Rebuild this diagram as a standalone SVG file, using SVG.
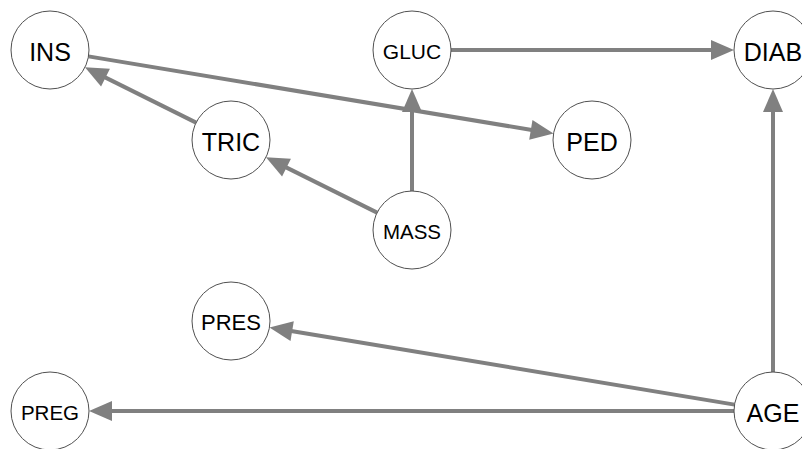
<svg xmlns="http://www.w3.org/2000/svg" width="802" height="449" viewBox="0 0 802 449">
  <style>
    .edge { stroke: #808080; stroke-width: 4; fill: none; marker-end: url(#arrow); }
    .node circle { fill: #ffffff; stroke: #505050; stroke-width: 1; }
    .node text { font-family: "Liberation Sans", Arial, sans-serif; fill: #000000; text-anchor: middle; }
  </style>
  <defs>
    <marker id="arrow" markerUnits="userSpaceOnUse" markerWidth="24" markerHeight="22" viewBox="-1 -11 24 22" refX="0" refY="0" orient="auto" overflow="visible">
      <path d="M-1,-10 L22,0 L-1,10 Z" fill="#808080"/>
    </marker>
  </defs>
  <rect width="802" height="449" fill="#ffffff"/>
  <g id="connectors">
    <path class="edge" d="M196.08,122.64 L104.62,77.15"/>
    <path class="edge" d="M88.47,56.39 L531.83,130.01"/>
    <path class="edge" d="M377.08,212.64 L285.62,167.15"/>
    <path class="edge" d="M412,191 L412,111"/>
    <path class="edge" d="M451,50 L712,50"/>
    <path class="edge" d="M773,372 L773,111"/>
    <path class="edge" d="M734.53,404.61 L291.17,330.99"/>
    <path class="edge" d="M734,411 L111,411"/>
  </g>
  <g id="INS" class="node"><circle cx="50" cy="50" r="39"/><text x="50" y="60.5" font-size="25">INS</text></g>
  <g id="GLUC" class="node"><circle cx="412" cy="50" r="39"/><text x="412" y="59" font-size="21">GLUC</text></g>
  <g id="DIAB" class="node"><circle cx="773" cy="50" r="39"/><text x="773" y="60.5" font-size="25">DIAB</text></g>
  <g id="TRIC" class="node"><circle cx="231" cy="140" r="39"/><text x="231" y="150.5" font-size="25">TRIC</text></g>
  <g id="PED" class="node"><circle cx="592" cy="140" r="39"/><text x="592" y="150.5" font-size="25">PED</text></g>
  <g id="MASS" class="node"><circle cx="412" cy="230" r="39"/><text x="412" y="238.8" font-size="20.5">MASS</text></g>
  <g id="PRES" class="node"><circle cx="231" cy="321" r="39"/><text x="231" y="330.4" font-size="22">PRES</text></g>
  <g id="PREG" class="node"><circle cx="50" cy="411" r="39"/><text x="50" y="419.8" font-size="20.5">PREG</text></g>
  <g id="AGE" class="node"><circle cx="773" cy="411" r="39"/><text x="773" y="421.5" font-size="25">AGE</text></g>
</svg>
